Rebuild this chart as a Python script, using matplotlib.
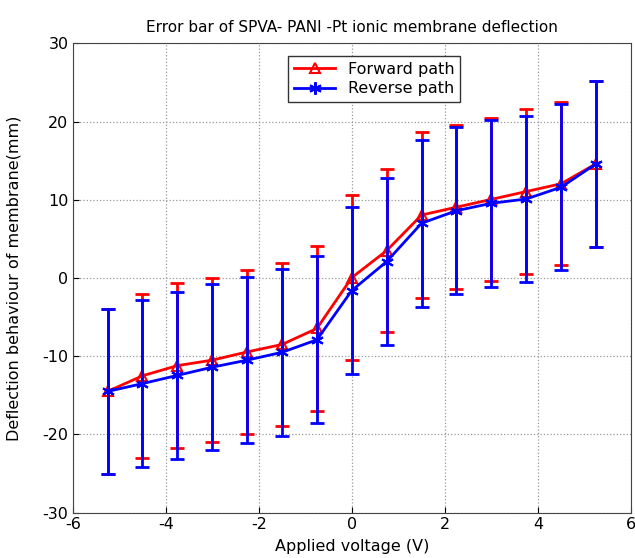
import numpy as np
import matplotlib.pyplot as plt

plt.rcParams['axes.unicode_minus'] = False

voltage = np.arange(-5.25, 5.26, 0.75)

forward = [-14.5, -12.5, -11.2, -10.5, -9.45, -8.5, -6.45, 0.05, 3.5, 8.05, 9.05, 10.05, 11.05, 12.05, 14.6]
forward_err = [10.6, 10.5, 10.5, 10.5, 10.5, 10.45, 10.55, 10.55, 10.45, 10.55, 10.5, 10.45, 10.55, 10.45, 10.6]

reverse = [-14.5, -13.5, -12.45, -11.4, -10.5, -9.5, -7.9, -1.6, 2.1, 7.0, 8.6, 9.55, 10.1, 11.6, 14.6]
reverse_err = [10.6, 10.65, 10.7, 10.65, 10.65, 10.7, 10.65, 10.65, 10.65, 10.7, 10.7, 10.7, 10.6, 10.6, 10.6]

fig = plt.figure(figsize=(6.35, 5.58), dpi=100)
ax = fig.add_axes([0.1145, 0.0812, 0.879, 0.8412])

# error bars first, then the lines with markers (these go in the legend)
ax.errorbar(voltage, forward, yerr=forward_err, fmt='none', ecolor='red',
            elinewidth=2, capsize=5, capthick=2)
ax.plot(voltage, forward, color='red', lw=2, marker='^', ms=7, mfc='none',
        mew=1.5, label='Forward path')
ax.errorbar(voltage, reverse, yerr=reverse_err, fmt='none', ecolor='blue',
            elinewidth=2, capsize=5, capthick=2)
ax.plot(voltage, reverse, color='blue', lw=2, marker=(6, 2, 0), ms=9,
        mew=1.5, label='Reverse path')

ax.set_xlim(-6, 6)
ax.set_ylim(-30, 30)
ax.set_xticks(np.arange(-6, 7, 2))
ax.set_yticks(np.arange(-30, 31, 10))
ax.grid(True, linestyle=':', color='#999999', linewidth=0.9)
ax.tick_params(direction='in', labelsize=11.5, length=4, pad=3)
for s in ax.spines.values():
    s.set_color('#444444')

ax.set_title('Error bar of SPVA- PANI -Pt ionic membrane deflection', fontsize=11, pad=8)
ax.set_xlabel('Applied voltage (V)', fontsize=11.5, labelpad=5)
ax.set_ylabel('Deflection behaviour of membrane(mm)', fontsize=11.5)
ax.yaxis.set_label_coords(-0.092, 0.5)

leg = ax.legend(loc='upper left', bbox_to_anchor=(0.372, 0.99), fontsize=11.5,
                fancybox=False, edgecolor='#333333', framealpha=1,
                handlelength=2.6, borderpad=0.35, labelspacing=0.3)
leg.get_frame().set_linewidth(1)

fig.savefig('out.png', dpi=100)
